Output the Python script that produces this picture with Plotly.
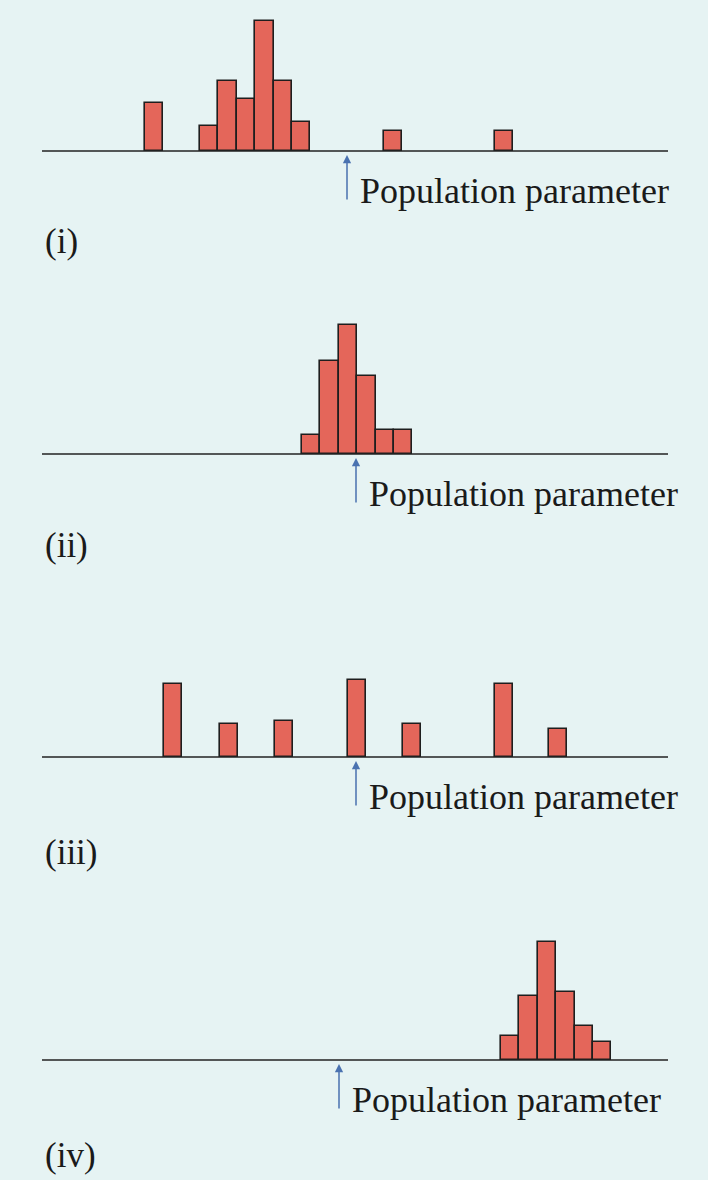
import plotly.graph_objects as go

W, H = 708, 1180
BW = 18.4
# panel data: bar left edges (horizontal units), heights
p1_x = [145, 200, 218.4, 236.8, 255.2, 273.6, 292, 384, 495]
p1_h = [48, 25, 70, 52, 130, 70, 29, 20, 20]
p2_x = [302, 320.4, 338.8, 357.2, 375.6, 394]
p2_h = [19, 93, 129, 78, 24, 24]
p3_x = [164, 220, 275, 348, 403, 495, 549]
p3_h = [73, 33, 36, 77, 33, 73, 28]
p4_x = [501, 519.4, 537.8, 556.2, 574.6, 593]
p4_h = [24, 64, 118, 68, 34, 18]
labels = ["(i)", "(ii)", "(iii)", "(iv)"]
param_x = [347, 356, 356, 339]
baselines = [151, 454, 757, 1060]
label_y = [242, 546, 852, 1155]
text = "Population parameter"

panels = [(p1_x, p1_h), (p2_x, p2_h), (p3_x, p3_h), (p4_x, p4_h)]
fig = go.Figure()
shapes, annots = [], []
for i, ((xs, hs), b) in enumerate(zip(panels, baselines)):
    n = "" if i == 0 else str(i + 1)
    fig.add_trace(go.Bar(x=[x + BW / 2 for x in xs], y=hs, width=BW,
                         marker=dict(color="#e4665a", line=dict(color="#1e1e1e", width=1.6)),
                         xaxis="x" + n, yaxis="y" + n, showlegend=False))
    top = b - 150
    fig.layout["xaxis" + n] = dict(domain=[42 / W, 668 / W], range=[42, 668], visible=False,
                                  anchor="y" + n)
    fig.layout["yaxis" + n] = dict(domain=[1 - b / H, 1 - top / H], range=[0, 150], visible=False,
                                  anchor="x" + n)
    shapes.append(dict(type="line", xref="paper", yref="paper", x0=42 / W, x1=668 / W,
                       y0=1 - b / H, y1=1 - b / H, line=dict(color="#222", width=1.5)))
    px = param_x[i]
    annots.append(dict(xref="paper", yref="paper", x=px / W, y=1 - (b + 4) / H, text="",
                       showarrow=True, ax=0, ay=46, arrowhead=2, arrowsize=1.1, arrowwidth=1.5,
                       arrowcolor="#4a72b0"))
    annots.append(dict(xref="paper", yref="paper", x=(px + 11) / W, y=1 - (b + 40) / H, text=text,
                       showarrow=False, xanchor="left", yanchor="middle",
                       font=dict(family="Liberation Serif", size=36, color="#1a1a1a")))
    annots.append(dict(xref="paper", yref="paper", x=43 / W, y=1 - label_y[i] / H, text=labels[i],
                       showarrow=False, xanchor="left", yanchor="middle",
                       font=dict(family="Liberation Serif", size=35, color="#1a1a1a")))

fig.update_layout(width=W, height=H, margin=dict(l=0, r=0, t=0, b=0),
                  paper_bgcolor="#e6f3f3", plot_bgcolor="rgba(0,0,0,0)",
                  shapes=shapes, annotations=annots, bargap=0)
fig.write_html("out.html", config={"displayModeBar": False},
               post_script="document.body.style.margin='0';document.body.style.background='#e6f3f3';")
